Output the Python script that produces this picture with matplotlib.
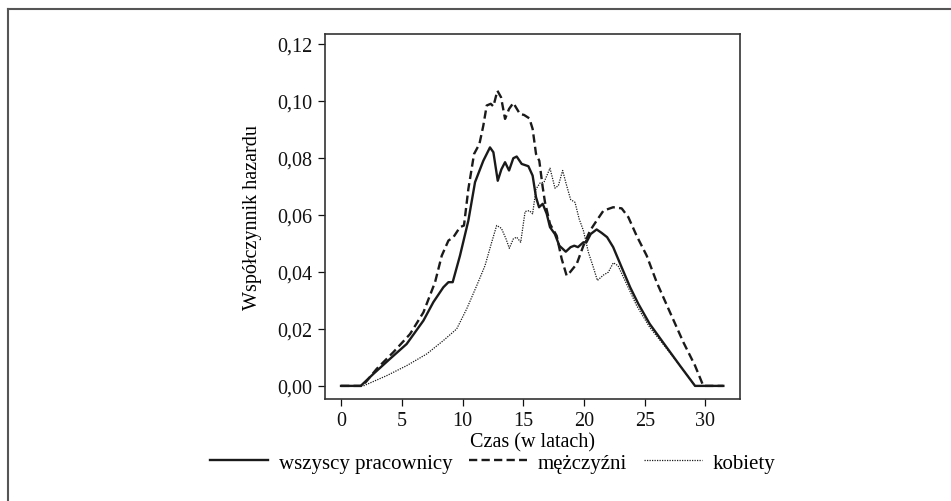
import matplotlib
matplotlib.use('Agg')
import matplotlib.pyplot as plt
from matplotlib.lines import Line2D
from matplotlib.ticker import FuncFormatter

# ============================================================
# Dane
# ============================================================
t_all = [0, 1.62, 2.66, 4.03, 5.4, 6.78, 7.6, 8.42, 8.84, 9.19, 9.79, 10.48, 11.03,
         11.71, 12.26, 12.54, 12.9, 13.2, 13.5, 13.83, 14.18, 14.46, 14.87, 15.42,
         15.77, 16.05, 16.3, 16.6, 16.93, 17.2, 17.6, 17.97, 18.5, 18.9, 19.2, 19.5,
         19.95, 20.2, 20.55, 21.04, 21.45, 21.9, 22.4, 23.1, 23.8, 24.47, 25.4, 26.5,
         27.9, 29.14, 31.47]
h_all = [0, 0, 0.0042, 0.0095, 0.0147, 0.0229, 0.0294, 0.0346, 0.0364, 0.0364,
         0.0457, 0.058, 0.0715, 0.079, 0.0837, 0.082, 0.072, 0.076, 0.0785, 0.0756,
         0.0799, 0.0805, 0.0779, 0.0771, 0.0738, 0.0662, 0.0627, 0.0639, 0.0604,
         0.0557, 0.0533, 0.0492, 0.0471, 0.0487, 0.0492, 0.0487, 0.0504, 0.0504,
         0.0533, 0.0549, 0.0537, 0.0522, 0.0487, 0.0416, 0.0346, 0.0288, 0.0218,
         0.0153, 0.0071, 0, 0]

t_men = [0, 1.78, 2.94, 4.3, 5.68, 6.78, 7.74, 8.29, 8.84, 9.25, 9.79, 10.12, 10.48,
         10.95, 11.39, 11.71, 11.99, 12.32, 12.54, 12.87, 13.17, 13.5, 13.83, 14.18,
         14.73, 15.06, 15.5, 15.77, 16.05, 16.32, 16.6, 16.79, 17.2, 17.75, 18.16,
         18.57, 18.85, 19.4, 19.95, 20.5, 21.04, 21.6, 22.4, 23.1, 23.65, 24.33,
         25.16, 25.98, 27.08, 28.18, 29.14, 29.82, 31.47]
h_men = [0, 0, 0.006, 0.0118, 0.0182, 0.0258, 0.0364, 0.0457, 0.051, 0.0522, 0.0557,
         0.0563, 0.0691, 0.0814, 0.0849, 0.0913, 0.0984, 0.099, 0.0981, 0.1036,
         0.1013, 0.0937, 0.0972, 0.0993, 0.0954, 0.0951, 0.0939, 0.0902, 0.0814,
         0.079, 0.0697, 0.0644, 0.0568, 0.0527, 0.0446, 0.0387, 0.0399, 0.0428,
         0.0492, 0.0545, 0.058, 0.0615, 0.0627, 0.0623, 0.0592, 0.0527, 0.0457,
         0.0364, 0.0258, 0.0153, 0.0071, 0, 0]

t_women = [0, 1.84, 3.76, 5.4, 7.05, 8.42, 9.52, 10.34, 11.17, 11.85, 12.4, 12.81,
           13.2, 13.58, 13.85, 14.18, 14.46, 14.79, 15.15, 15.5, 15.77, 16.05, 16.38,
           16.71, 17.2, 17.61, 17.89, 18.24, 18.57, 18.9, 19.26, 19.6, 19.95, 20.36,
           20.77, 21.1, 21.6, 22.0, 22.41, 22.8, 23.5, 24.33, 25.4, 26.5, 27.9,
           29.14, 31.47]
h_women = [0, 0, 0.0036, 0.0071, 0.0112, 0.0159, 0.02, 0.027, 0.0352, 0.0422, 0.0504,
           0.0563, 0.0553, 0.0516, 0.0483, 0.0516, 0.0522, 0.0504, 0.0612, 0.0615,
           0.0604, 0.0691, 0.0712, 0.0715, 0.0764, 0.0694, 0.0703, 0.0756, 0.0703,
           0.0654, 0.0644, 0.0586, 0.0545, 0.0469, 0.0416, 0.037, 0.0389, 0.0399,
           0.0432, 0.0422, 0.0358, 0.0282, 0.0206, 0.0147, 0.0071, 0, 0]

labels = ['wszyscy pracownicy', 'mężczyźni', 'kobiety']
x_ticks = [0, 5, 10, 15, 20, 25, 30]
y_ticks = [0.00, 0.02, 0.04, 0.06, 0.08, 0.10, 0.12]

# ============================================================
# Wykres
# ============================================================
plt.rcParams['font.family'] = ['Liberation Serif', 'DejaVu Serif']
FS = 14.5

fig = plt.figure(figsize=(9.51, 5.02), dpi=100)
ax = fig.add_axes([325 / 951, 1 - 400 / 502, 415 / 951, 365 / 502])

ax.plot(t_all, h_all, color='#1a1a1a', linewidth=1.7, linestyle='-', label=labels[0])
ax.plot(t_men, h_men, color='#1a1a1a', linewidth=1.7, linestyle=(0, (3.5, 1.8)), label=labels[1])
ax.plot(t_women, h_women, color='#1a1a1a', linewidth=0.9, linestyle=(0, (1, 1)), label=labels[2])

ax.set_xlim(-1.32, 32.84)
ax.set_ylim(-0.0046, 0.1235)
ax.set_xticks(x_ticks)
ax.set_yticks(y_ticks)
ax.yaxis.set_major_formatter(FuncFormatter(lambda v, p: f'{v:.2f}'.replace('.', ',')))
ax.tick_params(direction='out', length=5, width=0.9, labelsize=FS, colors='#111111', pad=4)
for s in ax.spines.values():
    s.set_linewidth(1.2)
    s.set_color('#333333')

ax.set_xlabel('Czas (w latach)', fontsize=FS, labelpad=1)
ax.set_ylabel('Współczynnik hazardu', fontsize=FS, labelpad=11)

fig.legend(loc='center', bbox_to_anchor=(0.518, 1 - 464 / 502), ncol=3, frameon=False,
           fontsize=15, handlelength=2.8, handletextpad=0.5, columnspacing=0.8)

# ramka zewnętrzna (tylko lewa i górna krawędź)
fig.add_artist(Line2D([7.5 / 951, 7.5 / 951], [0, 1 - 10 / 502], transform=fig.transFigure,
                      color='#555555', linewidth=1.5))
fig.add_artist(Line2D([7.5 / 951, 1], [1 - 10 / 502, 1 - 10 / 502], transform=fig.transFigure,
                      color='#555555', linewidth=1.5))

plt.savefig('out.png', dpi=100)
